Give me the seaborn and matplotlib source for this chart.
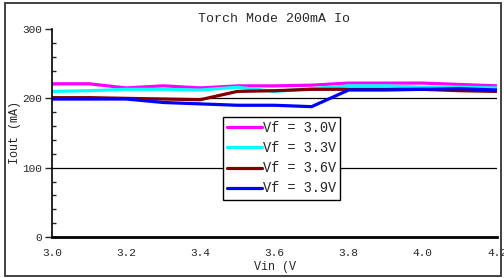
import matplotlib
matplotlib.use("Agg")
import matplotlib.pyplot as plt
import seaborn as sns
import pandas as pd
from matplotlib.patches import Rectangle
from matplotlib.ticker import MultipleLocator

# data
vin = [3.0, 3.1, 3.2, 3.3, 3.4, 3.5, 3.6, 3.7, 3.8, 3.9, 4.0, 4.1, 4.2]
iout_30 = [221, 221, 215, 218, 215, 218, 218, 219, 222, 222, 222, 220, 218]
iout_33 = [210, 211, 213, 213, 212, 216, 210, 214, 218, 218, 216, 216, 215]
iout_36 = [201, 201, 200, 199, 198, 210, 211, 213, 213, 213, 213, 211, 210]
iout_39 = [199, 199, 199, 194, 192, 190, 190, 188, 212, 212, 213, 214, 212]
series = ["Vf = 3.0V", "Vf = 3.3V", "Vf = 3.6V", "Vf = 3.9V"]
colors = ["#ff00ff", "#00ffff", "#800000", "#0000ff"]

df = pd.concat([
    pd.DataFrame({"Vin": vin, "Iout": vals, "Vf": name})
    for name, vals in zip(series, [iout_30, iout_33, iout_36, iout_39])
])

sns.set_style("white")
plt.rcParams['font.family'] = ['Liberation Mono', 'DejaVu Sans Mono']

fig = plt.figure(figsize=(5.04, 2.78), dpi=100)
ax = fig.add_axes([52 / 504, 41 / 278, 445 / 504, 208 / 278])

# outer frame round the whole chart
fig.patches.append(Rectangle((5 / 504, 2 / 278), 496 / 504, 273 / 278,
                             transform=fig.transFigure, fill=False,
                             edgecolor="#333333", linewidth=1.3))

ax.axhline(100, color="black", linewidth=0.9, zorder=1)
ax.axhline(200, color="black", linewidth=0.9, zorder=1)

sns.lineplot(data=df, x="Vin", y="Iout", hue="Vf",
             palette=dict(zip(series, colors)), linewidth=2.3, ax=ax,
             zorder=2)

ax.set_xlim(3.0, 4.2)
ax.set_ylim(0, 300)
ax.set_xticks([3.0, 3.2, 3.4, 3.6, 3.8, 4.0, 4.2])
ax.set_xticklabels(["3.0", "3.2", "3.4", "3.6", "3.8", "4.0", "4.2"])
ax.set_yticks([0, 100, 200, 300])
ax.yaxis.set_minor_locator(MultipleLocator(20))
ax.tick_params(axis="x", length=0, labelsize=8, pad=8)
ax.tick_params(axis="y", which="major", direction="out", length=5,
               width=1, labelsize=8, pad=2, left=True)
ax.tick_params(axis="y", which="minor", direction="in", length=3,
               width=1, left=True)

for side in ["top", "right"]:
    ax.spines[side].set_visible(False)
ax.spines["left"].set_linewidth(1.2)
ax.spines["bottom"].set_linewidth(2)
ax.spines["left"].set_color("black")
ax.spines["bottom"].set_color("black")

ax.set_title("Torch Mode 200mA Io", fontsize=9.5, pad=5)
ax.set_xlabel("Vin (V", fontsize=8.5, labelpad=2)
ax.set_ylabel("Iout (mA)", fontsize=8.5, labelpad=1)

leg = ax.legend(loc="upper left", bbox_to_anchor=(0.384, 0.577),
                fontsize=9.8, frameon=True, fancybox=False,
                edgecolor="black", framealpha=1, borderpad=0.3,
                labelspacing=0.45, handlelength=2.6, handletextpad=0.05,
                borderaxespad=0)
leg.get_frame().set_linewidth(1)
for line in leg.get_lines():
    line.set_linewidth(2.3)

fig.savefig("out.png", dpi=100)
